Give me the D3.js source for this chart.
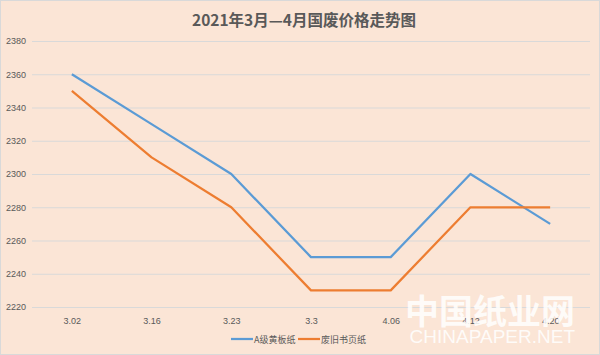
<!DOCTYPE html>
<html>
<head>
<meta charset="utf-8">
<script src="https://cdn.jsdelivr.net/npm/d3@7"></script>
<style>
  body { margin: 0; background: #fff; }
  svg { display: block; font-family: "Noto Sans CJK SC", "DejaVu Sans", sans-serif; }
</style>
</head>
<body>
<div id="chart"></div>
<script>
var dates = ["3.02", "3.16", "3.23", "3.3", "4.06", "4.12", "4.20"];
var seriesNames = ["A级黄板纸", "废旧书页纸"];
var gradeA = [2360, 2330, 2300, 2250, 2250, 2300, 2270];
var oldBook = [2350, 2310, 2280, 2230, 2230, 2280, 2280];
var yTicks = [2220, 2240, 2260, 2280, 2300, 2320, 2340, 2360, 2380];
var colors = ["#5b9bd5", "#ed7d31"];

function drawChart() {
    var w = 600, h = 355;
    var left = 32, right = 590, top = 41, bottom = 307;

    var svg = d3.select("#chart").append("svg")
        .attr("width", w)
        .attr("height", h);

    svg.append("rect")
        .attr("x", 0.5).attr("y", 0.5)
        .attr("width", w - 1).attr("height", h - 1)
        .attr("fill", "#fbe5d6")
        .attr("stroke", "#d9d9d9");

    svg.append("text")
        .attr("x", 304).attr("y", 25.5)
        .attr("text-anchor", "middle")
        .attr("font-size", 15.5)
        .attr("font-weight", "bold")
        .attr("fill", "#595959")
        .text("2021年3月—4月国废价格走势图");

    var xScale = d3.scalePoint()
        .domain(dates)
        .range([left, right])
        .padding(0.5);

    var yScale = d3.scaleLinear()
        .domain([2220, 2380])
        .range([bottom, top]);

    // gridlines + y labels
    var yAxis = d3.axisLeft(yScale)
        .tickValues(yTicks)
        .tickFormat(d3.format("d"))
        .tickSize(-(right - left));

    var gy = svg.append("g")
        .attr("transform", "translate(" + left + ",0)")
        .call(yAxis);
    gy.select(".domain").remove();
    gy.selectAll(".tick line").attr("stroke", "#d9d9d9");
    gy.selectAll(".tick text")
        .attr("fill", "#595959")
        .attr("font-size", 9)
        .attr("x", -6);

    var xAxis = d3.axisBottom(xScale).tickSize(0).tickPadding(11);
    var gx = svg.append("g")
        .attr("transform", "translate(0," + bottom + ")")
        .call(xAxis);
    gx.select(".domain").remove();
    gx.selectAll(".tick text")
        .attr("fill", "#595959")
        .attr("font-size", 9);

    var line = d3.line()
        .x(function(d, i) { return xScale(dates[i]); })
        .y(function(d) { return yScale(d); });

    [gradeA, oldBook].forEach(function(vals, k) {
        svg.append("path")
            .attr("d", line(vals))
            .attr("fill", "none")
            .attr("stroke", colors[k])
            .attr("stroke-width", 2.25)
            .attr("stroke-linejoin", "round");
    });

    // legend
    var legendX = [231, 298];
    seriesNames.forEach(function(name, k) {
        svg.append("line")
            .attr("x1", legendX[k]).attr("x2", legendX[k] + 22)
            .attr("y1", 339).attr("y2", 339)
            .attr("stroke", colors[k])
            .attr("stroke-width", 2.25);
        svg.append("text")
            .attr("x", legendX[k] + 23).attr("y", 342.5)
            .attr("font-size", 9)
            .attr("fill", "#595959")
            .text(name);
    });

    // watermark
    svg.append("text")
        .attr("x", 575).attr("y", 324)
        .attr("text-anchor", "end")
        .attr("font-size", 34)
        .attr("font-weight", "bold")
        .attr("fill", "#ffffff")
        .attr("opacity", 0.85)
        .text("中国纸业网");
    svg.append("text")
        .attr("x", 575).attr("y", 343)
        .attr("text-anchor", "end")
        .attr("font-size", 19)
        .attr("font-family", "Liberation Sans, sans-serif")
        .attr("fill", "#ffffff")
        .attr("opacity", 0.85)
        .text("CHINAPAPER.NET");
}

drawChart();
</script>
</body>
</html>
